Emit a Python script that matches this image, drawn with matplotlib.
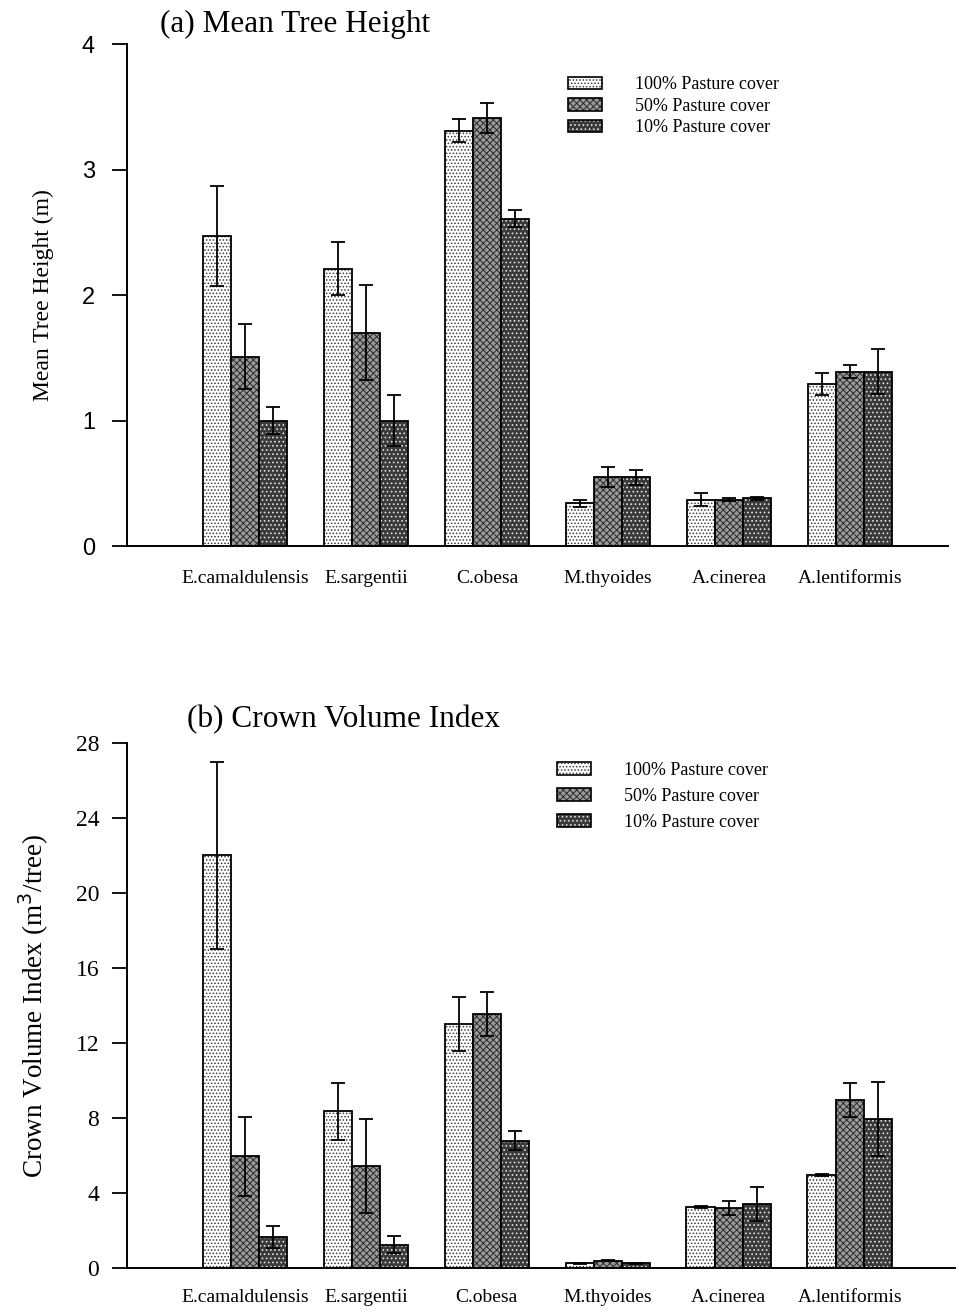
import matplotlib
matplotlib.use('Agg')
import matplotlib.pyplot as plt
import numpy as np
from matplotlib.patches import Patch
from matplotlib.legend_handler import HandlerTuple

species = ['E.camaldulensis', 'E.sargentii', 'C.obesa',
           'M.thyoides', 'A.cinerea', 'A.lentiformis']
covers = ['100% Pasture cover', '50% Pasture cover', '10% Pasture cover']

# mean tree height (m) and standard errors, one list per pasture cover
height_100 = [2.47, 2.21, 3.31, 0.34, 0.37, 1.29]
height_50 = [1.51, 1.70, 3.41, 0.55, 0.37, 1.39]
height_10 = [1.00, 1.00, 2.61, 0.55, 0.38, 1.39]
height_se_100 = [0.40, 0.21, 0.09, 0.03, 0.05, 0.09]
height_se_50 = [0.26, 0.38, 0.12, 0.08, 0.01, 0.05]
height_se_10 = [0.11, 0.20, 0.07, 0.06, 0.01, 0.18]

# crown volume index (m3/tree)
crown_100 = [22.0, 8.35, 13.0, 0.25, 3.25, 4.95]
crown_50 = [5.95, 5.45, 13.55, 0.40, 3.20, 8.95]
crown_10 = [1.65, 1.25, 6.80, 0.25, 3.40, 7.95]
crown_se_100 = [5.0, 1.5, 1.45, 0.03, 0.05, 0.05]
crown_se_50 = [2.1, 2.5, 1.15, 0.05, 0.35, 0.9]
crown_se_10 = [0.6, 0.45, 0.5, 0.03, 0.9, 1.95]

# bar styles: face colour, hatch colour, hatch
styles = [('white', '#3a3a3a', '.....'),
          ('#9a9a9a', '#2a2a2a', 'xxxxx'),
          ('#3a3a3a', '#e0e0e0', '....')]

plt.rcParams['hatch.linewidth'] = 0.7
serif = ['Liberation Serif', 'DejaVu Serif']
sans = ['Liberation Sans', 'DejaVu Sans']


def draw_bars(ax, values, errors, width):
    x = np.arange(len(species))
    offsets = [-width, 0, width]
    for vals, errs, off, (fc, hc, hatch) in zip(values, errors, offsets, styles):
        ax.bar(x + off, vals, width, color=fc, edgecolor=hc, hatch=hatch, lw=0)
        ax.bar(x + off, vals, width, fill=False, edgecolor='black', lw=1.3)
        ax.errorbar(x + off, vals, yerr=errs, fmt='none', ecolor='black',
                    elinewidth=1.3, capsize=5, capthick=1.3)
    ax.set_xticks(x)
    ax.set_xticklabels(species, family=serif, fontsize=14)
    ax.tick_params(axis='x', length=0)


def style_axes(ax):
    for s in ['top', 'right']:
        ax.spines[s].set_visible(False)
    for s in ['left', 'bottom']:
        ax.spines[s].set_linewidth(1.4)
    ax.tick_params(axis='y', length=11, width=1.3)


def add_legend(ax, anchor, spacing):
    handles = []
    for fc, hc, hatch in styles:
        fill = Patch(facecolor=fc, edgecolor=hc, hatch=hatch, lw=0)
        edge = Patch(facecolor='none', edgecolor='black', lw=1.2)
        handles.append((fill, edge))
    ax.legend(handles, covers, loc='upper left', bbox_to_anchor=anchor,
              frameon=False, prop={'family': serif, 'size': 13},
              handler_map={tuple: HandlerTuple(ndivide=1, pad=0)},
              handlelength=1.9, handleheight=0.7, handletextpad=1.8,
              labelspacing=spacing, borderpad=0, borderaxespad=0)


fig = plt.figure(figsize=(9.59, 13.12), dpi=100)

# (a) mean tree height
ax1 = fig.add_axes([0.1324, 0.5838, 0.856, 0.3826])
draw_bars(ax1, [height_100, height_50, height_10],
          [height_se_100, height_se_50, height_se_10], 0.233)
style_axes(ax1)
ax1.set_xlim(-0.975, 5.81)
ax1.set_ylim(0, 4)
ax1.set_yticks([0, 1, 2, 3, 4])
ax1.tick_params(axis='y', pad=12, labelsize=17)
for t in ax1.get_yticklabels():
    t.set_family(sans)
ax1.tick_params(axis='x', pad=17)
ax1.set_ylabel('Mean Tree Height (m)', family=serif, fontsize=17, labelpad=20)
fig.text(160 / 959, 1 - 24 / 1312, '(a) Mean Tree Height', family=serif,
         fontsize=22.5, va='center', ha='left')
add_legend(ax1, (0.537, 0.936), 0.25)

# (b) crown volume index
ax2 = fig.add_axes([0.1324, 0.0335, 0.8634, 0.4002])
draw_bars(ax2, [crown_100, crown_50, crown_10],
          [crown_se_100, crown_se_50, crown_se_10], 0.233)
style_axes(ax2)
ax2.set_xlim(-0.975, 5.87)
ax2.set_ylim(0, 28)
ax2.set_yticks(np.arange(0, 29, 4))
ax2.tick_params(axis='y', pad=9, labelsize=17)
for t in ax2.get_yticklabels():
    t.set_family(serif)
ax2.tick_params(axis='x', pad=15)
ax2.set_ylabel('Crown Volume Index (m$^3$/tree)', family=serif, fontsize=19.5,
               labelpad=18)
fig.text(187 / 959, 1 - 720 / 1312, '(b) Crown Volume Index', family=serif,
         fontsize=22.5, va='center', ha='left')
add_legend(ax2, (0.519, 0.964), 0.5)

fig.savefig('out.png', dpi=100)
